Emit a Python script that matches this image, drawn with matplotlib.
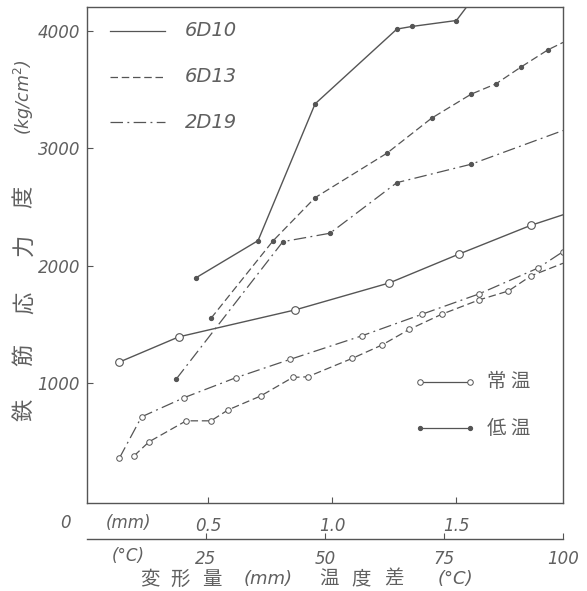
import matplotlib.pyplot as plt
from matplotlib.lines import Line2D

# ---- data (x in mm of deformation, y in kg/cm2) ----
# normal temperature (open circles)
n_6d10_x = [0.14, 0.38, 0.85, 1.23, 1.51, 1.80, 1.93]
n_6d10_y = [1180, 1395, 1625, 1855, 2100, 2345, 2435]
n_6d13_x = [0.20, 0.26, 0.41, 0.51, 0.58, 0.71, 0.84, 0.90, 1.08, 1.20,
            1.31, 1.44, 1.59, 1.71, 1.80, 1.93]
n_6d13_y = [382, 501, 680, 680, 774, 891, 1050, 1055, 1212, 1326,
            1459, 1587, 1709, 1786, 1914, 2022]
n_2d19_x = [0.14, 0.23, 0.40, 0.61, 0.83, 1.12, 1.36, 1.59, 1.83, 1.93]
n_2d19_y = [360, 714, 876, 1047, 1204, 1405, 1587, 1760, 1982, 2121]

# low temperature (filled dots)
l_6d10_x = [0.45, 0.70, 0.93, 1.26, 1.32, 1.50, 1.60]
l_6d10_y = [1899, 2215, 3380, 4017, 4039, 4090, 4370]
l_6d13_x = [0.51, 0.76, 0.93, 1.22, 1.40, 1.56, 1.66, 1.76, 1.87, 1.93]
l_6d13_y = [1553, 2212, 2581, 2960, 3258, 3463, 3551, 3693, 3841, 3903]
l_2d19_x = [0.37, 0.80, 0.99, 1.26, 1.56, 1.93]
l_2d19_y = [1036, 2206, 2278, 2709, 2866, 3153]

y_ticks = [1000, 2000, 3000, 4000]
mm_ticks = [0.5, 1.0, 1.5]
t_ticks = [25, 50, 75, 100]
series_names = ['6D10', '6D13', '2D19']

INK = '#555555'
TXT = '#606060'
CJK = ['Noto Sans CJK JP', 'DejaVu Sans']
NUM = dict(family='DejaVu Sans', style='italic', color=TXT)

DASH = (0, (6, 3))
DASHDOT = (0, (10, 3.5, 1.5, 3.5))
styles = ['-', DASH, DASHDOT]

fig = plt.figure(figsize=(5.87, 5.91), dpi=100)
ax = fig.add_axes([87 / 587, 1 - 503 / 591, 476 / 587, 496 / 591])
ax.set_xlim(0.01, 1.93)
ax.set_ylim(-20, 4205)

# normal temperature curves
ax.plot(n_6d10_x, n_6d10_y, ls='-', color=INK, lw=1.0, marker='o', ms=5.5,
        mfc='white', mec=INK, mew=0.8, markevery=slice(0, len(n_6d10_x) - 1))
ax.plot(n_6d13_x, n_6d13_y, ls=DASH, color=INK, lw=0.9, marker='o', ms=4,
        mfc='white', mec=INK, mew=0.7, markevery=slice(0, len(n_6d13_x) - 1))
ax.plot(n_2d19_x, n_2d19_y, ls=DASHDOT, color=INK, lw=0.9, marker='o', ms=4,
        mfc='white', mec=INK, mew=0.7)

# low temperature curves
ax.plot(l_6d10_x, l_6d10_y, ls='-', color=INK, lw=1.0, marker='o', ms=2.8,
        mfc=INK, mec=INK, markevery=slice(0, len(l_6d10_x) - 1))
ax.plot(l_6d13_x, l_6d13_y, ls=DASH, color=INK, lw=0.9, marker='o', ms=2.8,
        mfc=INK, mec=INK, markevery=slice(0, len(l_6d13_x) - 1))
ax.plot(l_2d19_x, l_2d19_y, ls=DASHDOT, color=INK, lw=0.9, marker='o', ms=2.8,
        mfc=INK, mec=INK, markevery=slice(0, len(l_2d19_x) - 1))

# axes styling
for s in ax.spines.values():
    s.set_color(INK)
    s.set_linewidth(1.0)
ax.set_yticks(y_ticks)
ax.set_yticklabels([str(v) for v in y_ticks], fontsize=12, **NUM)
ax.set_xticks(mm_ticks)
ax.set_xticklabels([f'{v:.1f}' for v in mm_ticks], fontsize=12, **NUM)
ax.tick_params(axis='both', direction='in', length=4, color=INK, width=0.8)
ax.tick_params(axis='y', pad=5)
ax.tick_params(axis='x', pad=10)

# temperature axis below
def mm2t(x):
    return (x - 0.01) / 1.92 * 100

def t2mm(t):
    return t / 100 * 1.92 + 0.01

sec = ax.secondary_xaxis(-0.072, functions=(mm2t, t2mm))
sec.spines['bottom'].set_color(INK)
sec.spines['bottom'].set_linewidth(1.0)
sec.set_xticks(t_ticks)
sec.set_xticklabels([str(v) for v in t_ticks], fontsize=12, **NUM)
sec.tick_params(direction='in', length=4, color=INK, width=0.8, pad=8)

# loose labels on the bottom rows
fig.text(65 / 587, 1 - 523 / 591, '0', ha='center', va='center', fontsize=12, **NUM)
fig.text(128 / 587, 1 - 523 / 591, '(mm)', ha='center', va='center', fontsize=12, **NUM)
fig.text(128 / 587, 1 - 556 / 591, '(°C)', ha='center', va='center', fontsize=12, **NUM)

# x label, spaced out like the hand lettering
xlab_parts = ['変', '形', '量', '(mm)', '温', '度', '差', '(°C)']
xlab_pos = [150, 180, 212, 268, 329, 361, 394, 455]
for part, px in zip(xlab_parts, xlab_pos):
    if part.startswith('('):
        fig.text(px / 587, 1 - 579 / 591, part, ha='center', va='center',
                 fontsize=13, **NUM)
    else:
        fig.text(px / 587, 1 - 579 / 591, part, ha='center', va='center',
                 fontsize=14, family=CJK, color=TXT)

# vertical y label, one glyph at a time
ylab_chars = ['鉄', '筋', '応', '力', '度']
ylab_pos = [410, 355, 303, 245, 197]
for ch, py in zip(ylab_chars, ylab_pos):
    fig.text(24 / 587, 1 - py / 591, ch, rotation=90, ha='center', va='center',
             fontsize=16, family=CJK, color=TXT)
fig.text(24 / 587, 1 - 97 / 591, '(kg/cm$^2$)', rotation=90, ha='center',
         va='center', fontsize=12.5, **NUM)

# legend: bar types
leg_y = [0.952, 0.859, 0.768]
for name, ls, yy in zip(series_names, styles, leg_y):
    ax.add_line(Line2D([0.048, 0.164], [yy, yy], transform=ax.transAxes,
                       ls=ls, color=INK, lw=0.9))
    ax.text(0.205, yy, name, transform=ax.transAxes, ha='left', va='center',
            fontsize=14, **NUM)

# legend: temperature condition
ax.plot([0.70, 0.805], [0.244, 0.244], transform=ax.transAxes, color=INK, lw=0.9,
        marker='o', ms=4, mfc='white', mec=INK, mew=0.7)
ax.text(0.84, 0.244, '常 温', transform=ax.transAxes, ha='left', va='center',
        fontsize=14, family=CJK, color=TXT)
ax.plot([0.70, 0.805], [0.151, 0.151], transform=ax.transAxes, color=INK, lw=0.9,
        marker='o', ms=2.8, mfc=INK, mec=INK)
ax.text(0.84, 0.151, '低 温', transform=ax.transAxes, ha='left', va='center',
        fontsize=14, family=CJK, color=TXT)

fig.savefig('out.png', dpi=100)
